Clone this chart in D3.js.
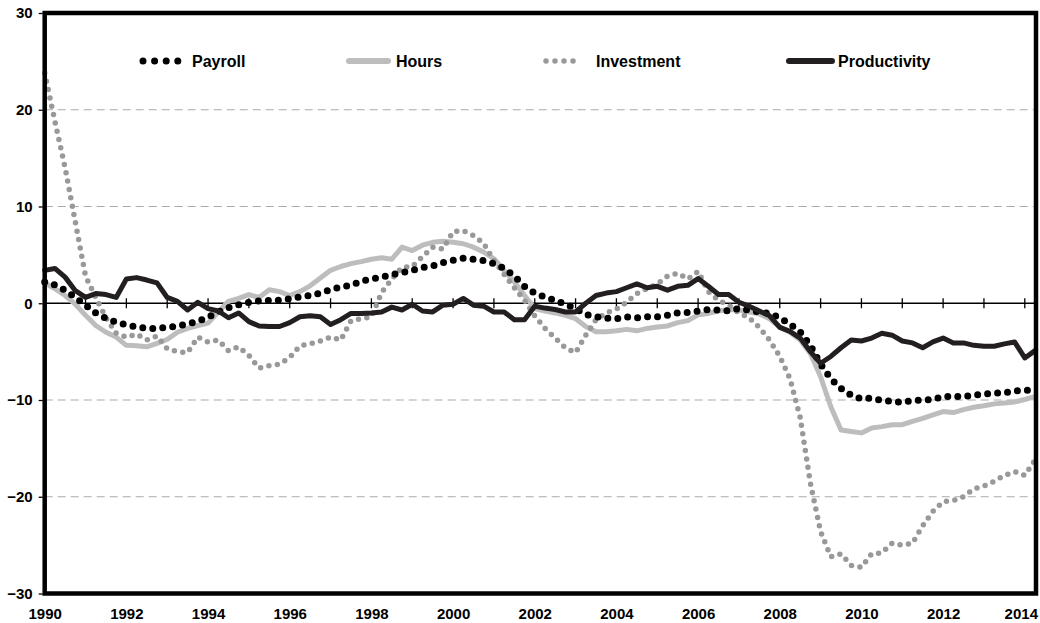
<!DOCTYPE html>
<html>
<head>
<meta charset="utf-8">
<script src="https://cdn.jsdelivr.net/npm/d3@7"></script>
<style>
  body { margin: 0; background: #fff; }
  svg { display: block; font-family: "Liberation Sans", Arial, Helvetica, sans-serif; }
  .axis text { font-size: 15px; font-weight: bold; fill: #000; }
  .legend text { font-size: 16px; font-weight: bold; fill: #000; }
</style>
</head>
<body>
<svg id="chart" width="1040" height="623"></svg>
<script>
// quarterly % changes, 1990Q1 .. 2014Q2
const payroll = [2.2, 1.9, 1.35, 0.6, -0.2, -1.0, -1.55, -1.95, -2.25, -2.45, -2.6, -2.6, -2.5, -2.35, -2.15, -1.85,
  -1.45, -0.9, -0.45, -0.15, 0.1, 0.25, 0.3, 0.3, 0.45, 0.65, 0.8, 1.05, 1.4, 1.7, 1.85, 2.3,
  2.5, 2.7, 2.95, 3.15, 3.4, 3.7, 3.85, 4.2, 4.45, 4.65, 4.55, 4.4, 4.1, 3.6, 2.8, 1.75,
  1.05, 0.65, 0.3, -0.1, -0.55, -1.15, -1.4, -1.55, -1.6, -1.4, -1.5, -1.4, -1.4, -1.25, -1.0, -0.95,
  -0.8, -0.65, -0.7, -0.8, -0.55, -0.7, -0.9, -1.05, -1.5, -2.15, -2.95, -4.35, -6.3, -7.8, -8.8, -9.5,
  -9.9, -9.8, -10.05, -10.15, -10.25, -10.05, -10.0, -9.95, -9.65, -9.65, -9.65, -9.5, -9.4, -9.3, -9.25, -9.05,
  -9.0, -9.0];

const hours = [2.1, 1.5, 0.8, -0.1, -1.25, -2.3, -3.0, -3.5, -4.35, -4.4, -4.5, -4.15, -3.75, -3.0, -2.6, -2.3,
  -2.05, -0.9, 0.2, 0.5, 0.9, 0.6, 1.4, 1.2, 0.8, 1.2, 1.8, 2.6, 3.4, 3.8, 4.1, 4.3,
  4.55, 4.7, 4.55, 5.8, 5.45, 6.0, 6.3, 6.4, 6.3, 6.15, 5.8, 5.3, 4.6, 3.4, 2.2, 0.8,
  -0.55, -0.8, -1.0, -1.25, -1.6, -2.4, -2.95, -2.95, -2.85, -2.7, -2.85, -2.6, -2.45, -2.35, -2.0, -1.8,
  -1.2, -1.05, -0.8, -0.65, -0.7, -0.9, -1.1, -1.6, -2.45, -3.0, -3.8, -5.2, -7.6, -10.7, -13.1, -13.25,
  -13.4, -12.9, -12.75, -12.55, -12.55, -12.2, -11.9, -11.55, -11.2, -11.3, -11.0, -10.75, -10.6, -10.4, -10.3, -10.2,
  -9.95, -9.65];

const investment = [23.8, 18.8, 14.0, 8.4, 2.8, 0.6, -1.5, -3.1, -3.5, -3.2, -3.8, -3.4, -4.7, -5.0, -5.1, -3.5,
  -4.0, -3.8, -4.9, -4.5, -5.4, -6.7, -6.45, -6.3, -5.6, -4.4, -4.2, -3.9, -3.5, -3.8, -1.8, -1.6,
  -1.4, 1.1, 2.5, 3.7, 3.8, 4.8, 5.8, 5.6, 7.4, 7.5, 7.0, 6.2, 4.4, 3.0, 1.6, 0.3,
  -1.3, -2.6, -3.6, -4.6, -5.1, -3.3, -1.7, -1.0, -0.6, 0.1, 1.0, 1.5, 2.0, 2.8, 3.1, 2.5,
  3.3, 1.2, 0.3, -0.2, -1.0, -1.5, -2.5, -3.8, -5.5, -7.8, -11.8, -18.6, -23.6, -26.2, -25.9, -27.1,
  -27.3, -25.9, -25.8, -24.8, -25.0, -24.8, -23.0, -21.5, -20.5, -20.4, -20.0, -19.2, -18.9, -18.4, -17.8, -17.4,
  -17.8, -16.2];

const productivity = [3.4, 3.6, 2.7, 1.3, 0.6, 1.0, 0.9, 0.6, 2.5, 2.65, 2.4, 2.1, 0.6, 0.2, -0.7, 0.1,
  -0.55, -0.8, -1.5, -1.0, -1.9, -2.35, -2.4, -2.4, -2.0, -1.4, -1.3, -1.4, -2.2, -1.7, -1.05, -1.05,
  -1.0, -0.9, -0.4, -0.7, -0.1, -0.8, -0.9, -0.2, -0.1, 0.5, -0.2, -0.3, -0.9, -0.9, -1.7, -1.7,
  -0.3, -0.5, -0.65, -0.9, -0.9, 0.0, 0.8, 1.05, 1.2, 1.6, 2.0, 1.6, 1.75, 1.35, 1.75, 1.85,
  2.55, 1.75, 0.9, 0.9, 0.1, -0.3, -0.8, -1.3, -2.5, -2.9, -3.6, -5.0, -6.2, -5.5, -4.6, -3.8,
  -3.9, -3.6, -3.1, -3.3, -3.9, -4.1, -4.6, -4.0, -3.6, -4.1, -4.1, -4.35, -4.45, -4.45, -4.2, -4.0,
  -5.65, -4.9];

const quarters = payroll.map((_, i) => 1990 + i / 4);
const yearLabels = [1990, 1992, 1994, 1996, 1998, 2000, 2002, 2004, 2006, 2008, 2010, 2012, 2014];
const zeroTicks = d3.range(1991, 2015);
const yTicks = [-30, -20, -10, 0, 10, 20, 30];
const gridValues = [-20, -10, 10, 20];

const svg = d3.select('#chart');

const plotLeft = 44.7, plotRight = 1035, plotTop = 13, plotBottom = 593.5;

const x = d3.scaleLinear().domain([1990, 2014.25]).range([plotLeft, plotRight]);
const y = d3.scaleLinear().domain([-30, 30]).range([plotBottom, plotTop]);

// dashed grid
svg.append('g')
  .selectAll('line')
  .data(gridValues)
  .enter()
  .append('line')
  .attr('x1', plotLeft)
  .attr('x2', plotRight)
  .attr('y1', d => y(d))
  .attr('y2', d => y(d))
  .attr('stroke', '#aaa')
  .attr('stroke-width', 1.2)
  .attr('stroke-dasharray', '8,5');

// zero line with year ticks
svg.append('line')
  .attr('x1', plotLeft)
  .attr('x2', plotRight)
  .attr('y1', y(0))
  .attr('y2', y(0))
  .attr('stroke', '#000')
  .attr('stroke-width', 1.5);

svg.append('g')
  .selectAll('line')
  .data(zeroTicks)
  .enter()
  .append('line')
  .attr('x1', d => x(d))
  .attr('x2', d => x(d))
  .attr('y1', y(0) - 5)
  .attr('y2', y(0) + 5)
  .attr('stroke', '#000')
  .attr('stroke-width', 1.3);

// series
const line = d3.line()
  .x((d, i) => x(quarters[i]))
  .y(d => y(d));

const series = [
  { name: 'Hours', values: hours, color: '#bdbdbd', width: 5, dash: null },
  { name: 'Investment', values: investment, color: '#999', width: 5.5, dash: '0,8.5' },
  { name: 'Payroll', values: payroll, color: '#000', width: 7, dash: '0,10' },
  { name: 'Productivity', values: productivity, color: '#231f20', width: 5, dash: null }
];

svg.append('g')
  .selectAll('path')
  .data(series)
  .enter()
  .append('path')
  .attr('d', d => line(d.values))
  .attr('fill', 'none')
  .attr('stroke', d => d.color)
  .attr('stroke-width', d => d.width)
  .attr('stroke-linecap', 'round')
  .attr('stroke-linejoin', 'round')
  .attr('stroke-dasharray', d => d.dash);

// frame
svg.append('rect')
  .attr('x', plotLeft)
  .attr('y', plotTop)
  .attr('width', 1036 - plotLeft)
  .attr('height', plotBottom - plotTop)
  .attr('fill', 'none')
  .attr('stroke', '#000')
  .attr('stroke-width', 4.5);

// axes
const yAxis = svg.append('g')
  .attr('class', 'axis')
  .attr('transform', `translate(${plotLeft - 2},0)`)
  .call(d3.axisLeft(y).tickValues(yTicks).tickSize(4).tickPadding(6).tickFormat(d3.format('d')));
yAxis.select('.domain').remove();
yAxis.selectAll('line').attr('stroke-width', 1.3);

const xAxis = svg.append('g')
  .attr('class', 'axis')
  .attr('transform', `translate(0,${plotBottom})`)
  .call(d3.axisBottom(x).tickValues(yearLabels).tickSize(0).tickPadding(15).tickFormat(d3.format('d')));
xAxis.select('.domain').remove();
// keep the last label inside the page
xAxis.selectAll('text').filter(d => d === 2014).attr('dx', -4);

// legend
const legendItems = [
  { name: 'Payroll', x1: 143, x2: 178, tx: 192, color: '#000', width: 7, dash: '0,11.6' },
  { name: 'Hours', x1: 349, x2: 388, tx: 396, color: '#bdbdbd', width: 6, dash: null },
  { name: 'Investment', x1: 546, x2: 582, tx: 596, color: '#999', width: 5.5, dash: '0,9' },
  { name: 'Productivity', x1: 789, x2: 832, tx: 838, color: '#231f20', width: 6, dash: null }
];

const legend = svg.append('g').attr('class', 'legend');
const legendY = 61;

const items = legend.selectAll('g')
  .data(legendItems)
  .enter()
  .append('g');

items.append('line')
  .attr('x1', d => d.x1)
  .attr('x2', d => d.x2)
  .attr('y1', legendY)
  .attr('y2', legendY)
  .attr('stroke', d => d.color)
  .attr('stroke-width', d => d.width)
  .attr('stroke-linecap', 'round')
  .attr('stroke-dasharray', d => d.dash);

items.append('text')
  .attr('x', d => d.tx)
  .attr('y', legendY)
  .attr('dy', '0.36em')
  .text(d => d.name);
</script>
</body>
</html>
